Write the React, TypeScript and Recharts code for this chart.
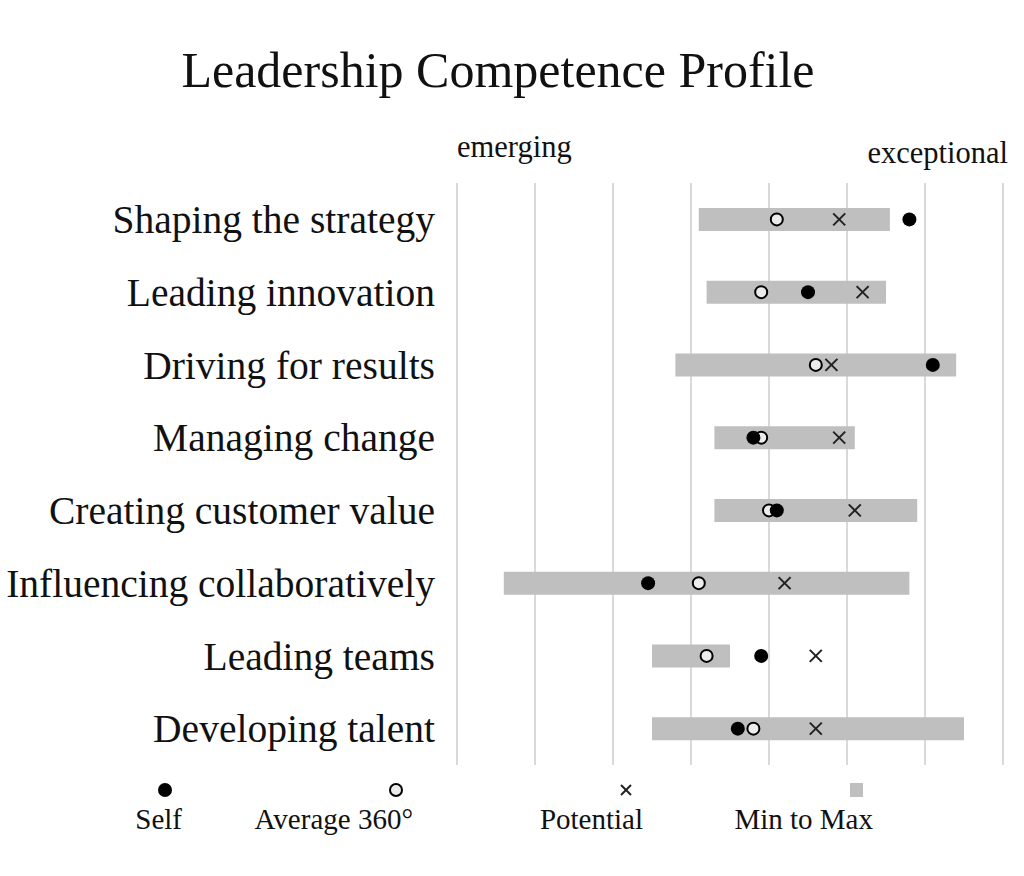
import React from "react";
import {
  ComposedChart,
  Bar,
  Scatter,
  XAxis,
  YAxis,
  CartesianGrid,
} from "recharts";

const categories = [
  "Shaping the strategy",
  "Leading innovation",
  "Driving for results",
  "Managing change",
  "Creating customer value",
  "Influencing collaboratively",
  "Leading teams",
  "Developing talent",
];
const selfScores = [5.8, 4.5, 6.1, 3.8, 4.1, 2.45, 3.9, 3.6];
const avg360Scores = [4.1, 3.9, 4.6, 3.9, 4.0, 3.1, 3.2, 3.8];
const potentialScores = [4.9, 5.2, 4.8, 4.9, 5.1, 4.2, 4.6, 4.6];
const minScores = [3.1, 3.2, 2.8, 3.3, 3.3, 0.6, 2.5, 2.5];
const maxScores = [5.55, 5.5, 6.4, 5.1, 5.9, 5.8, 3.5, 6.5];
const scaleTicks = [0, 1, 2, 3, 4, 5, 6, 7];
const scaleEndLabels = ["emerging", "exceptional"];
const legendLabels = ["Self", "Average 360°", "Potential", "Min to Max"];
const title = "Leadership Competence Profile";

const data = categories.map((name, i) => ({
  name,
  self: selfScores[i],
  avg: avg360Scores[i],
  potential: potentialScores[i],
  range: [minScores[i], maxScores[i]],
}));

const FONT = "'Liberation Serif', 'Times New Roman', serif";
const TEXT = "#111";
const BAR = "#bfbfbf";

const SelfDot = (p: any) =>
  p.cx == null ? null : <circle cx={p.cx} cy={p.cy} r={7} fill="#000" />;
const AvgDot = (p: any) =>
  p.cx == null ? null : (
    <circle cx={p.cx} cy={p.cy} r={6} fill="#ececec" stroke="#000" strokeWidth={2} />
  );
const Cross = (p: any) => {
  if (p.cx == null) return null;
  const s = 6;
  return (
    <g stroke="#222" strokeWidth={2}>
      <line x1={p.cx - s} y1={p.cy - s} x2={p.cx + s} y2={p.cy + s} />
      <line x1={p.cx - s} y1={p.cy + s} x2={p.cx + s} y2={p.cy - s} />
    </g>
  );
};

const CategoryTick = (p: any) => (
  <text
    x={p.x}
    y={p.y}
    dy="0.35em"
    textAnchor="end"
    fontFamily={FONT}
    fontSize={39.5}
    fill={TEXT}
  >
    {p.payload.value}
  </text>
);

const legendX = [165, 396, 626, 856];

export default function App() {
  return (
    <div
      style={{
        position: "absolute",
        left: 0,
        top: 0,
        width: 1024,
        height: 876,
        background: "#fff",
      }}
    >
      <ComposedChart
        width={1024}
        height={876}
        data={data}
        layout="vertical"
        margin={{ top: 183, right: 21, bottom: 111, left: 0 }}
      >
        <CartesianGrid
          horizontal={false}
          vertical={true}
          stroke="#d9d9d9"
          strokeWidth={2}
        />
        <XAxis type="number" domain={[0, 7]} ticks={scaleTicks} hide />
        <YAxis
          type="category"
          dataKey="name"
          width={457}
          axisLine={false}
          tickLine={false}
          tickSize={6}
          tickMargin={16}
          tick={CategoryTick}
          interval={0}
        />
        <Bar dataKey="range" fill={BAR} barSize={23} isAnimationActive={false} />
        <Scatter dataKey="avg" shape={AvgDot} isAnimationActive={false} />
        <Scatter dataKey="potential" shape={Cross} isAnimationActive={false} />
        <Scatter dataKey="self" shape={SelfDot} isAnimationActive={false} />
      </ComposedChart>
      <svg
        width={1024}
        height={876}
        style={{ position: "absolute", left: 0, top: 0, pointerEvents: "none" }}
      >
        <text
          x={498}
          y={87}
          textAnchor="middle"
          fontFamily={FONT}
          fontSize={50}
          fill={TEXT}
        >
          {title}
        </text>
        <text x={457} y={157} fontFamily={FONT} fontSize={30.5} fill={TEXT}>
          {scaleEndLabels[0]}
        </text>
        <text
          x={1008}
          y={163}
          textAnchor="end"
          fontFamily={FONT}
          fontSize={30.5}
          fill={TEXT}
        >
          {scaleEndLabels[1]}
        </text>
        {/* legend */}
        <circle cx={legendX[0]} cy={790} r={7} fill="#000" />
        <circle
          cx={legendX[1]}
          cy={790}
          r={6}
          fill="#ececec"
          stroke="#000"
          strokeWidth={2}
        />
        <g stroke="#222" strokeWidth={2}>
          <line x1={legendX[2] - 5} y1={785} x2={legendX[2] + 5} y2={795} />
          <line x1={legendX[2] - 5} y1={795} x2={legendX[2] + 5} y2={785} />
        </g>
        <rect x={legendX[3] - 6} y={783} width={13} height={14} fill={BAR} />
        {legendLabels.map((l, i) => (
          <text
            key={l}
            x={legendX[i] + 17}
            y={829}
            textAnchor="end"
            fontFamily={FONT}
            fontSize={29}
            fill={TEXT}
          >
            {l}
          </text>
        ))}
      </svg>
    </div>
  );
}
